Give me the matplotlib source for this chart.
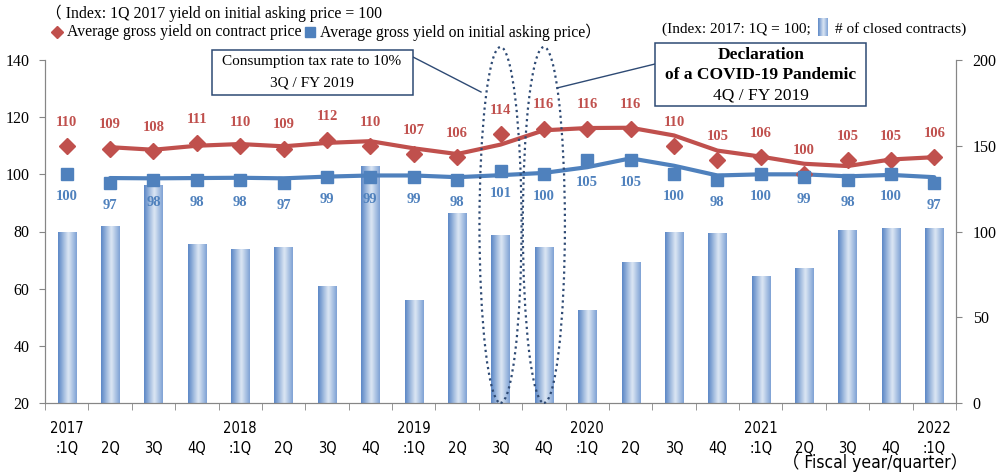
import numpy as np
import matplotlib
matplotlib.use('Agg')
from matplotlib import pyplot as plt
from matplotlib import font_manager
from matplotlib.patches import Ellipse, Rectangle
from matplotlib.lines import Line2D
from matplotlib.colors import LinearSegmentedColormap
from matplotlib.ticker import FixedLocator

# data
quarters = ['2017\n:1Q', ' \n2Q', ' \n3Q', ' \n4Q', '2018\n:1Q', ' \n2Q', ' \n3Q', ' \n4Q',
            '2019\n:1Q', ' \n2Q', ' \n3Q', ' \n4Q', '2020\n:1Q', ' \n2Q', ' \n3Q', ' \n4Q',
            '2021\n:1Q', ' \n2Q', ' \n3Q', ' \n4Q', '2022\n:1Q']
contract_yield = [110, 109, 108, 111, 110, 109, 112, 110, 107, 106, 114,
                  116, 116, 116, 110, 105, 106, 100, 105, 105, 106]
asking_yield = [100, 97, 98, 98, 98, 97, 99, 99, 99, 98, 101,
                100, 105, 105, 100, 98, 100, 99, 98, 100, 97]
# smoothed trend lines (start at 2Q 2017)
contract_trend = [np.nan, 109.5, 108.6, 110.0, 110.6, 109.8, 111.0, 111.6, 109.1, 107.1, 110.4,
                  115.4, 116.2, 116.3, 113.6, 108.3, 106.2, 103.7, 102.9, 105.2, 106.0]
asking_trend = [np.nan, 98.7, 98.6, 98.7, 98.8, 98.6, 99.2, 99.6, 99.6, 99.0, 99.7,
                100.5, 102.5, 105.6, 103.0, 99.6, 100.0, 100.0, 99.3, 99.8, 99.0]
closed_contracts = [100, 103, 127, 93, 90, 91, 68, 138, 60, 111, 98,
                    91, 54, 82, 100, 99, 74, 79, 101, 102, 102]

RED = '#C0504D'
BLUE = '#4F81BD'
GRAY = '#868686'
NAVY = '#2E4A74'

# look for a narrow sans face for the category labels
narrow_name, narrow_stretch = 'Liberation Sans', 'normal'
for f in font_manager.fontManager.ttflist:
    if f.style != 'normal' or f.weight not in (400, 'normal', 'regular'):
        continue
    if 'Narrow' in f.name or 'Condensed' in f.name or f.stretch in ('condensed', 'semi-condensed'):
        if 'Mono' in f.name or 'Serif' in f.name:
            continue
        narrow_name, narrow_stretch = f.name, f.stretch
        break
narrow = [narrow_name, 'Noto Sans CJK JP']

plt.rcParams['font.family'] = ['Liberation Serif', 'Noto Sans CJK JP', 'DejaVu Sans']

W, H = 999, 476
fig = plt.figure(figsize=(W / 100, H / 100), dpi=100)


def fx(x):
    return x / W


def fy(y):
    return 1 - y / H


ax = fig.add_axes([fx(45), fy(403), fx(956) - fx(45), fy(60) - fy(403)])
ax2 = ax.twinx()
ax.set_zorder(ax2.get_zorder() + 1)
ax.patch.set_visible(False)

x = np.arange(len(quarters))

# bars with horizontal gradient
cmap = LinearSegmentedColormap.from_list('bar', [(0, '#5B87C6'), (0.55, '#DDE7F4'), (1, '#7EA2D5')])
grad = np.linspace(0, 1, 64).reshape(1, -1)
bars = ax2.bar(x, closed_contracts, width=0.42, color='none', edgecolor='none')
for b in bars:
    bx, bw, bh = b.get_x(), b.get_width(), b.get_height()
    im = ax2.imshow(grad, extent=[bx, bx + bw, 0, bh], aspect='auto', cmap=cmap,
                    interpolation='bicubic', zorder=1)
    im.set_clip_path(b)
ax2.set_ylim(0, 200)
ax2.set_xlim(-0.5, 20.5)

# lines + markers
ax.plot(x, contract_trend, color=RED, lw=3, zorder=3, solid_capstyle='round')
ax.plot(x, asking_trend, color=BLUE, lw=3, zorder=3, solid_capstyle='round')
ax.plot(x, contract_yield, 'D', color=RED, ms=8, ls='none', zorder=4)
ax.plot(x, asking_yield, 's', color=BLUE, ms=8, ls='none', zorder=4)

for i in x:
    ax.annotate(str(contract_yield[i]), (i, contract_yield[i]), xytext=(0, 17),
                textcoords='offset points', ha='center', va='center',
                fontsize=10.5, fontweight='bold', color=RED, zorder=5)
    ax.annotate(str(asking_yield[i]), (i, asking_yield[i]), xytext=(0, -16),
                textcoords='offset points', ha='center', va='center',
                fontsize=10.5, fontweight='bold', color=BLUE, zorder=5)

ax.set_ylim(20, 140)
ax.set_xlim(-0.5, 20.5)
ax.set_yticks(range(20, 141, 20))
ax2.set_yticks(range(0, 201, 50))

# dotted ellipses around 3Q and 4Q FY2019
for cx in (10, 11):
    ax.add_patch(Ellipse((cx, 82.3), 0.97, 124.5, fill=False, ls=(0, (1, 1.6)),
                         lw=1.6, edgecolor=NAVY, clip_on=False, zorder=6))

# axes styling
for a in (ax, ax2):
    a.spines['top'].set_visible(False)
    for s in ('left', 'right', 'bottom'):
        a.spines[s].set_color(GRAY)
ax.set_xticks(x)
ax.set_xticklabels(quarters, family=narrow, stretch=narrow_stretch, fontsize=10.5, linespacing=1.45)
ax.xaxis.set_minor_locator(FixedLocator(np.arange(-0.5, 21, 1)))
ax.tick_params(axis='x', which='major', length=0, pad=13)
ax.tick_params(axis='x', which='minor', length=5, color=GRAY, direction='out')
ax.tick_params(axis='y', length=4, color=GRAY, labelsize=11.5, pad=7)
ax2.tick_params(axis='y', length=4, color=GRAY, labelsize=11.5, pad=8)

# annotation boxes
fig.patches.append(Rectangle((fx(212), fy(95)), fx(413) - fx(212), fy(50) - fy(95),
                             transform=fig.transFigure, facecolor='white',
                             edgecolor=NAVY, lw=1.1, zorder=10))
fig.text(fx(312), fy(62), 'Consumption tax rate to 10%', ha='center', va='center', fontsize=11, zorder=11)
fig.text(fx(312), fy(83), '3Q / FY 2019', ha='center', va='center', fontsize=11, zorder=11)
fig.lines.append(Line2D([fx(413), fx(481)], [fy(57), fy(92)], transform=fig.transFigure,
                        color=NAVY, lw=1, zorder=9))

fig.patches.append(Rectangle((fx(655), fy(106)), fx(866) - fx(655), fy(43) - fy(106),
                             transform=fig.transFigure, facecolor='white',
                             edgecolor=NAVY, lw=1.1, zorder=10))
fig.text(fx(761), fy(55), 'Declaration', ha='center', va='center', fontsize=12.5, fontweight='bold', zorder=11)
fig.text(fx(761), fy(75), 'of a COVID-19 Pandemic', ha='center', va='center', fontsize=12.5, fontweight='bold', zorder=11)
fig.text(fx(761), fy(95), '4Q / FY 2019', ha='center', va='center', fontsize=12.5, zorder=11)
fig.lines.append(Line2D([fx(655), fx(557)], [fy(64), fy(88)], transform=fig.transFigure,
                        color=NAVY, lw=1, zorder=9))

# legend texts at the top
fig.text(fx(46), fy(13), '（ Index: 1Q 2017 yield on initial asking price = 100', ha='left', va='center', fontsize=11.3)
fig.lines.append(Line2D([fx(57)], [fy(32)], transform=fig.transFigure, marker='D', ms=6.5, color=RED, ls='none'))
fig.text(fx(67), fy(32), 'Average gross yield on contract price', ha='left', va='center', fontsize=11.3)
fig.lines.append(Line2D([fx(310)], [fy(32)], transform=fig.transFigure, marker='s', ms=6.5, color=BLUE, ls='none'))
fig.text(fx(320), fy(32), 'Average gross yield on initial asking price）', ha='left', va='center', fontsize=11.3)

fig.text(fx(662), fy(29), '(Index: 2017: 1Q = 100;', ha='left', va='center', fontsize=11)
icon = fig.add_axes([fx(818), fy(36), fx(10), fy(18) - fy(36)])
icon.imshow(grad, aspect='auto', cmap=cmap, interpolation='bicubic')
icon.axis('off')
fig.text(fx(835), fy(29), '# of closed contracts)', ha='left', va='center', fontsize=11)

fig.text(fx(968), fy(463), '（ Fiscal year/quarter）', ha='right', va='center',
         family=narrow, stretch=narrow_stretch, fontsize=12.5)

fig.savefig('out.png', dpi=100)
